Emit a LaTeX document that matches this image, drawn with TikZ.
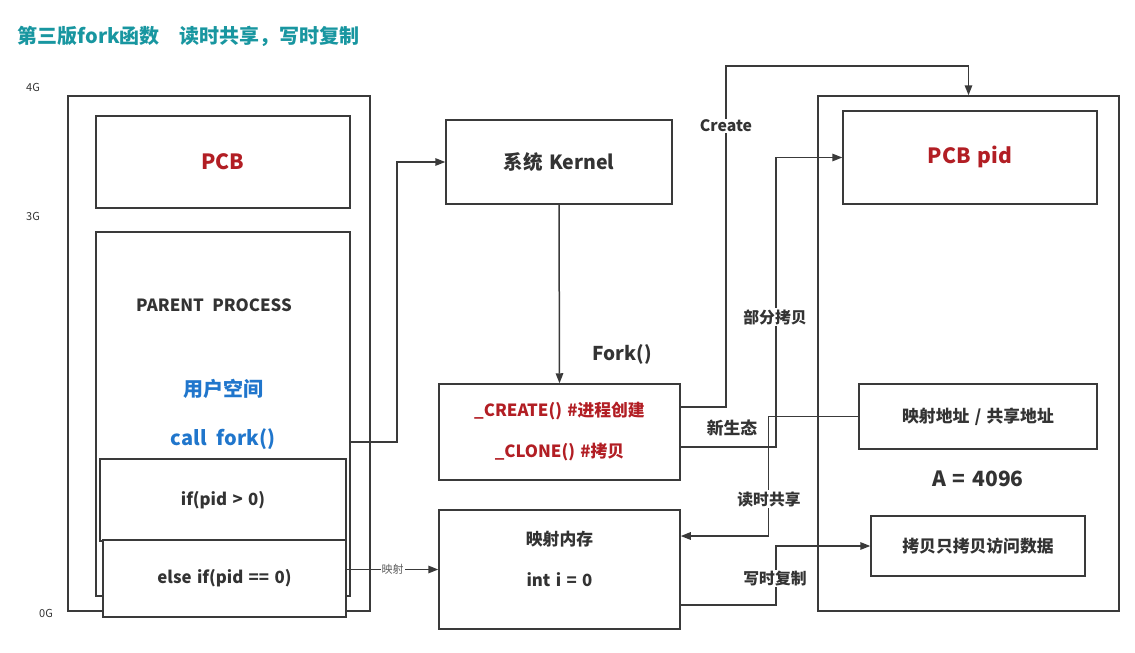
\documentclass[tikz,border=0pt]{standalone}
\usepackage{fontspec}
\setmainfont{Noto Sans CJK SC}[WordSpace=1.4]
\usetikzlibrary{arrows.meta}
\definecolor{ln}{RGB}{58,58,58}
\definecolor{tx}{RGB}{51,51,51}
\definecolor{ttl}{RGB}{24,150,160}
\definecolor{rd}{RGB}{178,30,36}
\definecolor{bl}{RGB}{32,118,204}
\begin{document}
\begin{tikzpicture}[x=1pt,y=-1pt,
  box/.style={draw=ln,line width=1.5pt,fill=white,inner sep=0pt},
  arr/.style={draw=ln,line width=1.5pt,-{Triangle[length=10pt,width=7.5pt]}},
  lbl/.style={fill=white,inner sep=1pt,text=tx,font=\fontsize{15.8}{18}\selectfont\bfseries},
  txt/.style={text=tx,font=\fontsize{16.8}{20}\selectfont\bfseries},
  axis/.style={text=tx,font=\fontsize{11}{13}\selectfont}]
\useasboundingbox (0,0) rectangle (1135,653);
\node[anchor=west,text=ttl,font=\fontsize{20}{24}\selectfont\bfseries] (title) at (14,36) {第三版fork函数\hspace{1em}读时共享，写时复制};
\node[axis] (g4) at (33,87) {4G};
\node[axis] (g3) at (33,216) {3G};
\node[axis] (g0) at (46,613) {0G};
% left side
\node[box,minimum width=302pt,minimum height=515pt] (lbox) at (219,353.5) {};
\node[box,minimum width=254pt,minimum height=92pt] (pcb) at (223,162) {};
\node[text=rd,font=\fontsize{21}{25}\selectfont\bfseries] (pcbt) at (223,162) {PCB};
\node[box,minimum width=254pt,minimum height=364pt] (inner) at (223,414) {};
\node[txt] (pp) at (214,305) {PARENT\hspace{0.5em}PROCESS};
\node[text=bl,font=\fontsize{20}{24}\selectfont\bfseries] (us) at (223,389) {用户空间};
\node[text=bl,font=\fontsize{20}{24}\selectfont\bfseries] (cf) at (223,439) {call\hspace{0.5em}fork()};
\node[box,minimum width=246pt,minimum height=82pt] (ifb) at (223,500) {};
\node[txt] (ift) at (223,500) {if(pid > 0)};
\node[box,minimum width=243pt,minimum height=77pt] (elb) at (224.5,578.5) {};
\node[txt] (elt) at (224.5,578.5) {else if(pid == 0)};
% middle
\node[box,minimum width=226pt,minimum height=84pt,txt,font=\fontsize{19.5}{23}\selectfont\bfseries] (kern) at (559,162) {系统 Kernel};
\node[box,minimum width=241pt,minimum height=96pt] (cc) at (559.5,432) {};
\node[text=rd,font=\fontsize{16.8}{20}\selectfont\bfseries] (cct1) at (559.5,411) {\_CREATE() \#进程创建};
\node[text=rd,font=\fontsize{16.8}{20}\selectfont\bfseries] (cct2) at (559.5,452) {\_CLONE() \#拷贝};
\node[box,minimum width=241pt,minimum height=119pt] (mem) at (559.5,569.5) {};
\node[txt] (memt1) at (559.5,539) {映射内存};
\node[txt] (memt2) at (559.5,580) {int i = 0};
\node[txt,font=\fontsize{19}{23}\selectfont\bfseries] (fork) at (622,354) {Fork()};
% right side
\node[box,minimum width=301pt,minimum height=515pt] (rbox) at (968.5,353.5) {};
\node[box,minimum width=254pt,minimum height=93pt] (pcbpid) at (970,157.5) {};
\node[text=rd,font=\fontsize{21}{25}\selectfont\bfseries] (pcbpidt) at (970,157) {PCB pid};
\node[box,minimum width=238pt,minimum height=65pt,txt] (map) at (978,416.5) {映射地址 / 共享地址};
\node[txt,font=\fontsize{21}{25}\selectfont\bfseries] (a4096) at (978,479) {A = 4096};
\node[box,minimum width=214pt,minimum height=60pt,txt] (copy) at (978,546) {拷贝只拷贝访问数据};
% connectors
\coordinate (cfs) at (350,442);
\draw[arr] (cfs) -- (397,442) |- (kern.west);
\draw[arr] (kern.south) -- (cc.north);
\draw[arr] (elb.east |- mem.west) -- node[fill=white,inner sep=1pt,text=tx!80,font=\fontsize{11}{13}\selectfont] (ys) {映射} (mem.west);
\coordinate (ctop) at (726,66);
\draw[arr] ([yshift=25pt]cc.east) -| (ctop) -| (rbox.north);
\node[lbl] (clbl) at (726,126) {Create};
\draw[arr] ([yshift=-15pt]cc.east) -- ++(95,0) |- (pcbpid.west);
\node[lbl] (bflbl) at (775,317) {部分拷贝};
\draw[arr] (map.west) -- ++(-90,0) |- ([yshift=33.5pt]mem.east);
\node[lbl] (dslbl) at (769,499) {读时共享};
\draw[arr] ([yshift=-35.5pt]mem.east) -- ++(95,0) |- (copy.west);
\node[lbl] (xslbl) at (775,578) {写时复制};
\node[txt] (xst) at (732,428) {新生态};
\end{tikzpicture}
\end{document}
